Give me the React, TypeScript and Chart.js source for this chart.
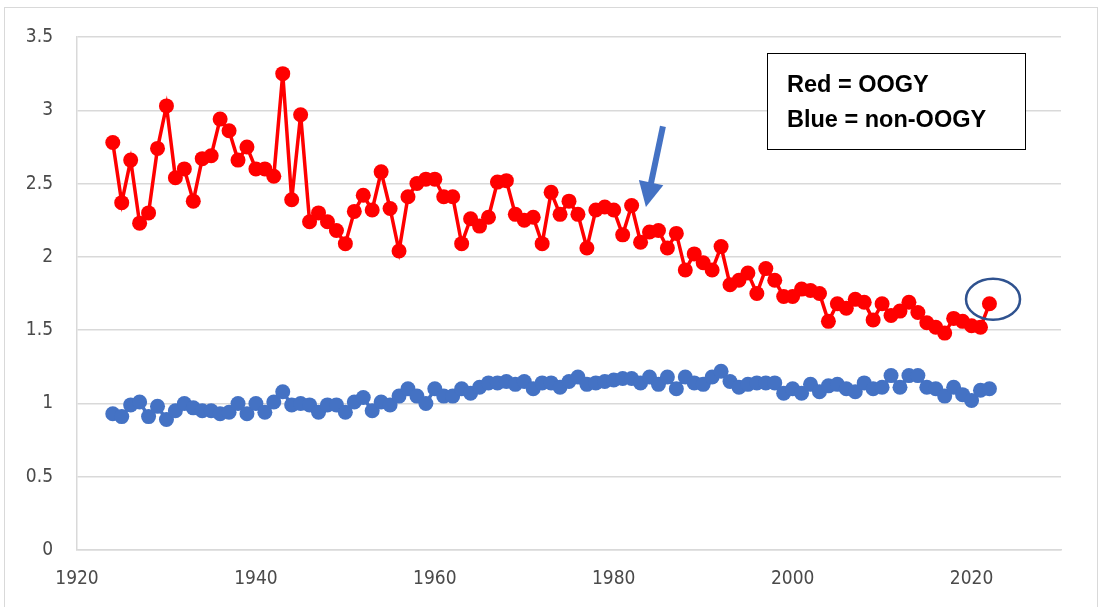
import React, { useEffect, useRef } from "react";
import { Chart, registerables } from "chart.js";

Chart.register(...registerables);

const years = [
  1924, 1925, 1926, 1927, 1928, 1929, 1930, 1931, 1932, 1933,
  1934, 1935, 1936, 1937, 1938, 1939, 1940, 1941, 1942, 1943,
  1944, 1945, 1946, 1947, 1948, 1949, 1950, 1951, 1952, 1953,
  1954, 1955, 1956, 1957, 1958, 1959, 1960, 1961, 1962, 1963,
  1964, 1965, 1966, 1967, 1968, 1969, 1970, 1971, 1972, 1973,
  1974, 1975, 1976, 1977, 1978, 1979, 1980, 1981, 1982, 1983,
  1984, 1985, 1986, 1987, 1988, 1989, 1990, 1991, 1992, 1993,
  1994, 1995, 1996, 1997, 1998, 1999, 2000, 2001, 2002, 2003,
  2004, 2005, 2006, 2007, 2008, 2009, 2010, 2011, 2012, 2013,
  2014, 2015, 2016, 2017, 2018, 2019, 2020, 2021, 2022,
];

const oogy = [
  2.78, 2.37, 2.66, 2.23, 2.30, 2.74, 3.03, 2.54, 2.60, 2.38,
  2.67, 2.69, 2.94, 2.86, 2.66, 2.75, 2.60, 2.60, 2.55, 3.25,
  2.39, 2.97, 2.24, 2.30, 2.24, 2.18, 2.09, 2.31, 2.42, 2.32,
  2.58, 2.33, 2.04, 2.41, 2.50, 2.53, 2.53, 2.41, 2.41, 2.09,
  2.26, 2.21, 2.27, 2.51, 2.52, 2.29, 2.25, 2.27, 2.09, 2.44,
  2.29, 2.38, 2.29, 2.06, 2.32, 2.34, 2.32, 2.15, 2.35, 2.10,
  2.17, 2.18, 2.06, 2.16, 1.91, 2.02, 1.96, 1.91, 2.07, 1.81,
  1.84, 1.89, 1.75, 1.92, 1.84, 1.73, 1.73, 1.78, 1.77, 1.75,
  1.56, 1.68, 1.65, 1.71, 1.69, 1.57, 1.68, 1.60, 1.63, 1.69,
  1.62, 1.55, 1.52, 1.48, 1.58, 1.56, 1.53, 1.52, 1.68,
];

const nonOogy = [
  0.93, 0.91, 0.99, 1.01, 0.91, 0.98, 0.89, 0.95, 1.00, 0.97,
  0.95, 0.95, 0.93, 0.94, 1.00, 0.93, 1.00, 0.94, 1.01, 1.08,
  0.99, 1.00, 0.99, 0.94, 0.99, 0.99, 0.94, 1.01, 1.04, 0.95,
  1.01, 0.99, 1.05, 1.10, 1.05, 1.00, 1.10, 1.05, 1.05, 1.10,
  1.07, 1.11, 1.14, 1.14, 1.15, 1.13, 1.15, 1.10, 1.14, 1.14,
  1.11, 1.15, 1.18, 1.13, 1.14, 1.15, 1.16, 1.17, 1.17, 1.14,
  1.18, 1.13, 1.18, 1.10, 1.18, 1.14, 1.13, 1.18, 1.22, 1.15,
  1.11, 1.13, 1.14, 1.14, 1.14, 1.07, 1.10, 1.07, 1.13, 1.08,
  1.12, 1.13, 1.10, 1.08, 1.14, 1.10, 1.11, 1.19, 1.11, 1.19,
  1.19, 1.11, 1.10, 1.05, 1.11, 1.06, 1.02, 1.09, 1.10,
];

const xTicks = [1920, 1940, 1960, 1980, 2000, 2020];
const yTicks = [0, 0.5, 1, 1.5, 2, 2.5, 3, 3.5];
const legendLines = ["Red = OOGY", "Blue = non-OOGY"];

const RED = "#FF0000";
const BLUE = "#4472C4";
const DARK_BLUE = "#2F528F";
const GRID = "#D9D9D9";
const TICK_COLOR = "#4A4A4A";
const TICK_FONT = "'Liberation Sans Narrow', 'DejaVu Sans Condensed', 'Liberation Sans', sans-serif";

const annotationPlugin = {
  id: "annotations",
  afterDatasetsDraw(chart: any) {
    const ctx = chart.ctx as CanvasRenderingContext2D;
    const xs = chart.scales.x;
    const ys = chart.scales.y;
    ctx.save();

    // Arrow pointing at early 1980s
    const tailX = xs.getPixelForValue(1985.5);
    const tailY = ys.getPixelForValue(2.89);
    const tipX = xs.getPixelForValue(1983.6);
    const tipY = ys.getPixelForValue(2.34);
    const ang = Math.atan2(tipY - tailY, tipX - tailX);
    const headLen = 25;
    const headHalf = 12.5;
    const baseX = tipX - headLen * Math.cos(ang);
    const baseY = tipY - headLen * Math.sin(ang);
    ctx.strokeStyle = BLUE;
    ctx.fillStyle = BLUE;
    ctx.lineWidth = 6;
    ctx.beginPath();
    ctx.moveTo(tailX, tailY);
    ctx.lineTo(baseX + 2 * Math.cos(ang), baseY + 2 * Math.sin(ang));
    ctx.stroke();
    ctx.beginPath();
    ctx.moveTo(tipX, tipY);
    ctx.lineTo(baseX + headHalf * Math.sin(ang), baseY - headHalf * Math.cos(ang));
    ctx.lineTo(baseX - headHalf * Math.sin(ang), baseY + headHalf * Math.cos(ang));
    ctx.closePath();
    ctx.fill();

    // Ellipse around last point
    const ex = xs.getPixelForValue(2022.4);
    const ey = ys.getPixelForValue(1.71);
    ctx.strokeStyle = DARK_BLUE;
    ctx.lineWidth = 2.5;
    ctx.beginPath();
    ctx.ellipse(ex, ey, 27, 20.5, 0, 0, Math.PI * 2);
    ctx.stroke();

    // Legend text box
    ctx.fillStyle = "#FFFFFF";
    ctx.fillRect(767, 53, 259, 97);
    ctx.strokeStyle = "#000000";
    ctx.lineWidth = 1;
    ctx.strokeRect(767.5, 53.5, 258, 96);
    ctx.fillStyle = "#000000";
    ctx.font = "bold 23.5px 'Liberation Sans', Arial, sans-serif";
    ctx.textAlign = "left";
    ctx.textBaseline = "alphabetic";
    ctx.fillText(legendLines[0], 787, 92);
    ctx.fillText(legendLines[1], 787, 127);

    ctx.restore();
  },
};

export default function App() {
  const canvasRef = useRef<HTMLCanvasElement | null>(null);

  useEffect(() => {
    const canvas = canvasRef.current;
    if (!canvas) return;
    const chart = new Chart(canvas, {
      type: "line",
      data: {
        datasets: [
          {
            label: "OOGY",
            data: years.map((y, i) => ({ x: y, y: oogy[i] })),
            borderColor: RED,
            backgroundColor: RED,
            borderWidth: 3.5,
            pointRadius: 7.5,
            pointHoverRadius: 7.5,
            pointBorderWidth: 0,
            pointBackgroundColor: RED,
            tension: 0,
          },
          {
            label: "non-OOGY",
            data: years.map((y, i) => ({ x: y, y: nonOogy[i] })),
            borderColor: BLUE,
            backgroundColor: BLUE,
            borderWidth: 3.5,
            pointRadius: 7.5,
            pointHoverRadius: 7.5,
            pointBorderWidth: 0,
            pointBackgroundColor: BLUE,
            tension: 0,
          },
        ],
      },
      options: {
        animation: false,
        responsive: false,
        maintainAspectRatio: false,
        layout: { padding: { left: 7, right: 42, top: 37, bottom: 0 } },
        plugins: {
          legend: { display: false },
          tooltip: { enabled: false },
          title: { display: false },
        },
        scales: {
          x: {
            type: "linear",
            min: 1920,
            max: 2030,
            afterBuildTicks: (s: any) => {
              s.ticks = xTicks.map((v) => ({ value: v }));
            },
            afterFit: (s: any) => {
              s.height = 57;
            },
            grid: { display: false, drawTicks: false },
            border: { display: true, color: GRID, width: 1.5 },
            ticks: {
              autoSkip: false,
              maxRotation: 0,
              padding: 18,
              color: TICK_COLOR,
              font: { family: TICK_FONT, size: 19 },
              callback: (v: any) => String(v),
            },
          },
          y: {
            type: "linear",
            min: 0,
            max: 3.5,
            afterBuildTicks: (s: any) => {
              s.ticks = yTicks.map((v) => ({ value: v }));
            },
            afterFit: (s: any) => {
              s.width = 70;
            },
            grid: { color: GRID, lineWidth: 1.5, drawTicks: false },
            border: { display: true, color: GRID, width: 1.5 },
            ticks: {
              padding: 24,
              color: TICK_COLOR,
              font: { family: TICK_FONT, size: 19 },
              callback: (v: any) => String(v),
            },
          },
        },
      },
      plugins: [annotationPlugin],
    });
    return () => chart.destroy();
  }, []);

  return (
    <div
      style={{
        position: "absolute",
        left: 0,
        top: 0,
        width: 1103,
        height: 607,
        overflow: "hidden",
        background: "#FFFFFF",
      }}
    >
      <div
        style={{
          position: "absolute",
          left: 4,
          top: 7,
          width: 1094,
          height: 620,
          border: "1px solid #D9D9D9",
          boxSizing: "border-box",
        }}
      />
      <canvas
        ref={canvasRef}
        width={1103}
        height={607}
        style={{ position: "absolute", left: 0, top: 0, width: 1103, height: 607 }}
      />
    </div>
  );
}
